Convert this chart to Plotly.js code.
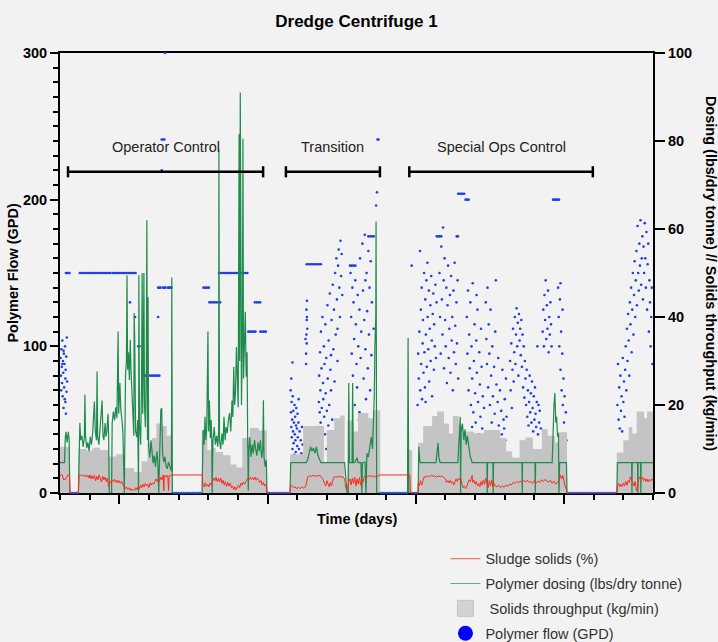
<!DOCTYPE html>
<html><head><meta charset="utf-8">
<script src="https://cdn.plot.ly/plotly-3.0.1.min.js"></script>
<style>html,body{margin:0;padding:0;background:#f2f2f2}#chart{width:718px;height:642px}</style>
</head><body><div id="chart"></div>
<script>
// ---- Solids throughput (kg/min), step values [day, value]
const throughputPts = [[0,10.5],[0.32,0],[0.62,10],[0.9,9.6],[1.1,10.3],[1.35,9.8],[1.65,8.3],[1.9,8.8],[2.15,5.7],[2.5,4.8],[2.75,7.2],[2.95,11.5],[3.1,12.5],[3.25,15.8],[3.45,15.2],[3.6,13],[3.8,0],
[4.78,14.3],[4.97,9.8],[5.1,10.2],[5.25,9.3],[5.5,8.6],[5.75,6.5],[5.95,5.8],[6.15,12.5],[6.4,14.8],[6.7,14.2],[6.98,0],
[7.76,8.8],[8.2,15.2],[8.9,7],[9.0,14.3],[9.25,17],[9.45,17.6],[9.6,2],[9.7,16.5],[9.9,14],[10.05,18.2],[10.4,17],[10.55,18.8],[10.8,0],
[11.72,9.8],[11.88,0],[12.08,11.4],[12.25,15.2],[12.55,17.5],[12.72,18.5],[12.95,15.8],[13.12,13.5],[13.25,17.5],[13.45,15.5],[13.6,14],[13.95,13.6],[14.3,14.3],[14.85,12.5],[15.05,9.5],[15.25,8],[15.5,12],[15.7,12.6],[15.95,10],[16.25,14.5],[16.45,13],[16.7,11.5],[16.8,13.8],[17.1,0],
[18.78,9.2],[19.0,12],[19.18,15],[19.3,13.5],[19.45,18.5],[19.7,17],[19.8,18.5],[20,18.5]];

// ---- Polymer dosing (lbs/dry tonne) [day, value]
const dosingPts = [[0,6.9],[0.15,6.9],[0.18,12.8],[0.2,13.9],[0.24,11.5],[0.28,13.9],[0.31,12],[0.33,0],[0.62,0],
[0.65,11.4],[0.67,15.9],[0.70,12],[0.74,13],[0.78,10.5],[0.82,12.5],[0.84,22.3],[0.86,13],[0.90,10.2],[0.94,11.5],[0.98,9.5],[1.02,12.8],[1.06,11],[1.10,13.5],[1.13,17.3],[1.16,20.8],[1.19,14],[1.23,12],[1.25,27.6],[1.27,13],[1.31,11],[1.35,14.5],[1.38,16.6],[1.42,21],[1.45,13],[1.48,12],[1.52,15.9],[1.55,12.8],[1.58,14],[1.62,18],[1.64,12.8],[1.66,0],[1.74,0],[1.76,15.9],[1.80,18.5],[1.84,16.5],[1.88,19.5],[1.92,17],[1.96,36.7],[1.98,18],[2.02,25],[2.05,19],[2.09,16.6],[2.12,14],[2.17,0],[2.21,27],[2.24,30],[2.26,49.5],[2.28,28],[2.31,32],[2.34,25.7],[2.37,34.8],[2.40,27],[2.43,22],[2.46,16],[2.49,13],[2.50,40.9],[2.52,34.8],[2.55,14],[2.59,12.7],[2.62,16.6],[2.65,0],[2.66,49.5],[2.68,16],[2.72,11],[2.75,25],[2.77,50],[2.79,18],[2.81,30],[2.83,50],[2.85,20],[2.88,15],[2.91,28],[2.93,62],[2.95,12],[2.97,44.5],[2.99,10.5],[3.03,8],[3.07,12],[3.10,9],[3.14,6.8],[3.18,8.5],[3.22,6],[3.27,9.5],[3.30,7],[3.33,0],[3.37,8],[3.40,18.9],[3.43,19.3],[3.46,9],[3.50,7],[3.54,8.2],[3.58,6],[3.62,5.5],[3.66,7],[3.70,6],[3.76,5],[3.77,49],[3.79,0],[4.79,0],
[4.80,9],[4.83,14.3],[4.86,11],[4.89,17.3],[4.92,12],[4.95,15],[4.99,36.7],[5.01,14],[5.04,21],[5.07,12.5],[5.10,16.6],[5.12,11],[5.13,0],[5.16,12],[5.20,15],[5.24,11],[5.28,13],[5.32,10.5],[5.35,14],[5.36,78],[5.38,12],[5.42,10],[5.46,13.5],[5.50,11],[5.53,17.3],[5.57,12],[5.60,15],[5.64,13.6],[5.68,16.6],[5.72,18.2],[5.76,14],[5.80,21],[5.83,17.3],[5.86,28.7],[5.89,20],[5.92,23],[5.95,33.2],[5.98,25],[6.01,19.5],[6.04,81.6],[6.06,30],[6.08,91],[6.10,29.5],[6.12,20],[6.15,36],[6.17,80.5],[6.19,26],[6.22,38],[6.25,41.2],[6.28,26.4],[6.31,32],[6.33,12],[6.35,0.5],[6.37,9.8],[6.40,12.7],[6.44,8.2],[6.48,11],[6.52,9],[6.56,12],[6.60,10],[6.64,8.5],[6.68,11.5],[6.72,9.5],[6.76,12],[6.80,8],[6.84,10],[6.86,21.1],[6.88,8.2],[6.92,6],[6.96,7.5],[6.98,0],[7.76,0],
[7.78,6.9],[8.30,6.9],[8.35,7.5],[8.40,9],[8.45,10.5],[8.50,9.5],[8.55,10.2],[8.60,9],[8.65,10.5],[8.70,8.5],[8.75,7.5],[8.80,6.9],[9.60,6.9],[9.68,0],[9.72,0],[9.74,25],[9.76,6.9],[9.85,6.9],[9.87,25],[9.89,6.9],[9.95,7],[10.02,8],[10.05,6.9],[10.15,6.9],[10.18,0],[10.20,6.9],[10.29,7],[10.32,0],[10.35,9],[10.40,8.2],[10.45,10.5],[10.50,12.7],[10.54,10],[10.57,15],[10.60,22],[10.62,33.2],[10.65,40],[10.66,61.7],[10.68,0],[11.72,0],
[11.74,35.2],[11.76,0],[12.08,0],[12.10,10.5],[12.14,6.9],[12.68,6.9],[12.72,9],[12.75,11.4],[12.78,8],[12.82,6.9],[13.42,6.9],[13.46,12],[13.50,17.3],[13.51,0],[13.53,14],[13.57,15.8],[13.62,12],[13.66,14.5],[13.70,11],[13.74,13],[13.78,10.5],[13.83,8.5],[13.90,6.9],[14.40,6.9],[14.41,0],[14.42,6.9],[14.60,6.9],[14.61,0],[14.62,6.9],[15.58,6.9],[15.59,0],[15.60,6.9],[16.02,6.9],[16.03,0],[16.04,6.9],[16.60,6.9],[16.63,15.9],[16.66,20],[16.69,22.7],[16.72,16],[16.75,17.3],[16.78,12.8],[16.81,13.6],[16.83,0],[16.85,6.9],[17.08,6.9],[17.10,0],[18.78,0],
[18.80,6.9],[19.28,6.9],[19.29,0],[19.30,6.9],[19.48,6.9],[19.49,0],[19.50,6.9],[19.58,6.9],[19.59,0],[19.60,6.9],[20,6.9]];

// ---- Sludge solids (%) [day, value]
const sludgePts = [[0,4.1],[0.08,4.1],[0.12,3.0],[0.2,3.2],[0.26,4.1],[0.32,4.1],[0.34,0],[0.62,0],
[0.64,4.1],[0.70,4.0],[0.75,4.1],[0.80,3.8],[0.85,4.1],[0.90,3.6],[0.94,4.0],[0.98,3.4],[1.01,4.1],[1.05,3.2],[1.08,3.9],[1.12,3.3],[1.16,4.0],[1.20,2.8],[1.24,3.8],[1.28,3.0],[1.32,4.1],[1.36,3.5],[1.40,2.5],[1.44,3.8],[1.48,3.0],[1.52,3.6],[1.56,2.6],[1.60,3.4],[1.64,1.4],[1.68,2.6],[1.72,2.3],[1.76,3.0],[1.80,2.6],[1.84,3.1],[1.88,2.4],[1.92,2.9],[1.96,2.3],[2.00,2.8],[2.04,2.2],[2.08,2.6],[2.12,1.8],[2.16,1.4],[2.20,1.0],[2.24,1.4],[2.28,0.8],[2.32,1.2],[2.36,0.6],[2.40,1.0],[2.44,0.5],[2.48,0.9],[2.52,0.6],[2.56,1.2],[2.60,0.7],[2.64,1.5],[2.68,1.0],[2.72,1.8],[2.76,1.2],[2.80,2.0],[2.84,1.4],[2.88,2.2],[2.92,1.6],[2.96,2.0],[3.00,1.2],[3.04,2.3],[3.08,1.8],[3.12,2.3],[3.16,2.0],[3.20,2.6],[3.24,3.2],[3.28,2.6],[3.32,3.4],[3.36,2.8],[3.40,3.6],[3.44,3.0],[3.48,4.1],[3.50,0.5],[3.52,4.0],[3.56,3.6],[3.60,4.1],[3.64,3.4],[3.66,0.6],[3.68,4.0],[3.72,3.8],[3.76,4.1],[3.81,4.1],[4.80,4.1],
[4.82,1.8],[4.86,1.4],[4.90,2.3],[4.94,1.5],[4.98,2.0],[5.02,1.4],[5.06,2.2],[5.10,1.8],[5.14,2.6],[5.18,3.4],[5.22,2.8],[5.26,3.6],[5.30,2.6],[5.34,3.3],[5.38,2.5],[5.42,3.4],[5.46,2.2],[5.50,2.9],[5.54,1.8],[5.58,2.6],[5.62,1.5],[5.66,2.4],[5.70,1.6],[5.74,2.2],[5.78,1.2],[5.82,1.6],[5.86,0.8],[5.90,1.4],[5.94,0.7],[5.98,1.2],[6.02,1.8],[6.06,1.2],[6.10,2.2],[6.14,1.8],[6.18,2.5],[6.22,2.0],[6.26,2.6],[6.30,3.0],[6.34,3.4],[6.38,3.0],[6.42,3.6],[6.46,3.1],[6.50,3.5],[6.54,3.0],[6.58,3.6],[6.62,2.9],[6.66,3.4],[6.70,3.0],[6.74,2.4],[6.78,2.8],[6.82,1.8],[6.86,2.4],[6.90,1.6],[6.95,2.0],[6.98,0],[7.76,0],
[7.77,1.8],[7.82,1.6],[7.88,1.2],[7.93,1.4],[7.98,1.0],[8.04,1.3],[8.10,1.0],[8.16,1.4],[8.22,1.1],[8.28,1.4],[8.33,2.5],[8.36,3.7],[8.42,3.9],[8.48,3.8],[8.54,4.0],[8.60,3.9],[8.66,3.8],[8.72,4.0],[8.78,3.9],[8.84,3.3],[8.88,3.0],[8.92,2.2],[8.96,1.6],[9.00,2.8],[9.04,1.8],[9.08,1.4],[9.12,2.4],[9.16,1.6],[9.20,2.8],[9.24,3.6],[9.30,3.7],[9.36,3.6],[9.42,3.8],[9.48,3.6],[9.54,3.7],[9.60,3.2],[9.63,1.4],[9.67,0.8],[9.71,1.2],[9.74,2.6],[9.78,3.2],[9.82,1.8],[9.86,3.4],[9.90,2.2],[9.94,3.6],[9.98,1.6],[10.02,3.2],[10.06,2.0],[10.10,3.5],[10.14,1.8],[10.18,3.0],[10.22,2.4],[10.26,3.8],[10.30,3.9],[10.36,3.7],[10.42,3.9],[10.48,3.8],[10.54,3.9],[10.60,3.6],[10.66,3.9],[10.72,3.8],[10.79,4.1],[11.80,4.1],[11.82,0],[12.07,0],
[12.08,2.2],[12.12,1.6],[12.16,2.8],[12.20,1.8],[12.24,3.0],[12.28,3.7],[12.34,3.6],[12.40,3.9],[12.46,3.7],[12.52,4.0],[12.58,3.8],[12.64,3.9],[12.70,3.6],[12.76,3.9],[12.82,3.7],[12.88,3.9],[12.94,3.5],[13.00,3.2],[13.04,2.4],[13.08,2.8],[13.12,2.3],[13.16,2.9],[13.20,2.2],[13.24,2.6],[13.28,1.8],[13.32,2.8],[13.36,3.2],[13.40,2.6],[13.44,3.4],[13.48,3.0],[13.52,3.3],[13.56,2.0],[13.60,1.2],[13.64,1.6],[13.68,1.0],[13.72,1.5],[13.76,2.4],[13.80,3.0],[13.84,2.6],[13.88,3.4],[13.90,4.0],[13.92,2.4],[13.96,2.9],[14.00,2.0],[14.04,2.6],[14.08,1.6],[14.12,2.2],[14.16,1.4],[14.20,2.6],[14.24,1.8],[14.28,3.0],[14.32,2.0],[14.36,3.4],[14.40,2.2],[14.44,1.2],[14.48,2.8],[14.52,1.6],[14.56,3.0],[14.60,1.4],[14.64,2.2],[14.68,1.6],[14.74,1.4],[14.80,1.8],[14.86,1.2],[14.92,1.6],[14.98,1.3],[15.04,1.8],[15.10,1.5],[15.16,2.0],[15.22,1.8],[15.28,2.4],[15.34,2.2],[15.40,2.6],[15.46,2.3],[15.52,2.7],[15.58,2.4],[15.64,2.8],[15.70,2.5],[15.76,2.9],[15.82,2.4],[15.88,2.6],[15.94,2.2],[16.00,2.8],[16.06,2.2],[16.12,2.7],[16.18,2.4],[16.24,3.0],[16.30,2.6],[16.36,3.1],[16.42,2.7],[16.48,2.5],[16.54,2.9],[16.60,2.2],[16.66,2.7],[16.72,2.0],[16.78,2.5],[16.84,2.9],[16.88,4.1],[16.92,3.2],[16.96,4.0],[17.00,2.6],[17.04,1.4],[17.08,0.8],[17.10,0],[18.78,0],
[18.80,1.6],[18.84,2.2],[18.88,1.4],[18.92,2.0],[18.96,1.5],[19.00,2.3],[19.04,1.6],[19.08,2.6],[19.12,1.8],[19.16,2.8],[19.20,2.4],[19.24,3.7],[19.28,3.0],[19.32,2.4],[19.36,1.6],[19.40,2.6],[19.44,0.5],[19.48,1.2],[19.52,3.2],[19.56,3.7],[19.60,3.2],[19.64,3.6],[19.68,2.8],[19.72,3.4],[19.76,2.6],[19.80,3.2],[19.84,2.5],[19.88,3.1],[19.92,2.7],[19.96,3.2],[20.00,2.8]];

// ---- Polymer flow (GPD): constant-rate runs [value, days...]
const flowRuns = [
 [150,[0.20,0.24,0.28,0.32]],
 [150,[0.67,0.73,0.79,0.85,0.91,0.97,1.03,1.09,1.15,1.21,1.27,1.33,1.39,1.45,1.51,1.57,1.63,1.69]],
 [150,[1.77,1.83,1.89,1.95,2.01,2.07,2.13,2.19,2.25,2.31,2.37,2.43,2.49,2.55]],
 [150,[5.36,5.42,5.48,5.54,5.60,5.66,5.72,5.78,5.84,5.90,5.96,6.02,6.08,6.14,6.20,6.26,6.32]],
 [140,[3.31,3.35,3.39,3.48,3.52,3.56,3.64,3.68,3.72,3.76,4.84,4.90,4.96,5.02]],
 [130,[5.04,5.10,5.16,5.22,5.28,5.34,5.40,6.57,6.63,6.69,6.75]],
 [110,[6.35,6.41,6.47,6.53,6.59,6.76,6.82,6.88,6.94]],
 [80,[2.81,2.87,2.93,2.99,3.05,3.11,3.17,3.23,3.29,3.35]],
 [156,[8.32,8.38,8.44,8.50,8.56,8.62,8.68,8.74,8.80]],
 [155,[9.78,9.84,9.90,9.96]],
 [175,[10.40,10.46,10.52,10.58,12.71,12.76,12.81,12.86,13.38,13.42]],
 [204,[13.43,13.48,13.53,13.58,13.63]],
 [200,[13.68,13.73,13.78,16.63,16.68,16.73,16.78,16.83]],
 [0,[0.36,0.42,0.48,0.54,0.60,3.84,3.92,4.00,4.08,4.16,4.24,4.32,4.40,4.48,4.56,4.64,4.72,7.02,7.10,7.18,7.26,7.34,7.42,7.50,7.58,7.66,7.74,10.82,10.90,10.98,11.06,11.14,11.22,11.30,11.38,11.46,11.54,11.62,11.70,11.90,11.98,12.04,17.12,17.20,17.28,17.36,17.44,17.52,17.60,17.68,17.76,17.84,17.92,18.00,18.08,18.16,18.24,18.32,18.40,18.48,18.56,18.64,18.72]]
];
// ---- Polymer flow (GPD): individual readings [day, value]
const flowPoints = [[2.36,130],[2.53,120],[3.31,120],[2.64,100],[2.68,100],[3.43,220],[3.43,241],[3.48,241],[3.52,241],[3.54,300],[10.66,196],[10.69,205],[10.71,241],[10.74,241],[11.86,155],
[0.02,92],[0.03,80],[0.04,70],[0.05,98],[0.06,86],[0.07,75],[0.08,104],[0.09,66],[0.10,90],[0.11,82],[0.12,58],[0.13,95],[0.14,72],[0.15,88],[0.16,64],[0.17,100],[0.18,78],[0.19,84],[0.20,54],[0.21,93],[0.22,69],[0.23,106],[0.24,76],[0.18,62],[0.08,88],[0.12,97],
[7.78,70],[7.79,55],[7.80,45],[7.81,62],[7.82,38],[7.83,50],[7.84,30],[7.85,66],[7.86,42],[7.87,56],[7.88,34],[7.89,48],[7.90,26],[7.91,60],[7.92,40],[7.93,52],[7.94,36],[7.95,28],[7.96,46],[7.97,58],[7.98,22],[7.99,44],[8.00,32],[8.01,54],[8.02,38],[8.03,24],[8.04,48],[8.06,30],[8.08,42],[8.10,20],[8.12,36],[7.80,78],[7.84,89],[8.05,64],[8.14,27],[8.16,45],[8.18,33],
[8.28,105],[8.30,95],[8.31,108],[8.32,118],[8.31,125],[8.33,131],[8.32,102],[8.34,112],[8.30,88],[8.33,120],
[8.72,45],[8.73,62],[8.74,80],[8.75,38],[8.76,55],[8.77,96],[8.78,70],[8.79,48],[8.80,110],[8.81,34],[8.82,85],[8.83,58],[8.85,120],[8.86,42],[8.87,75],[8.88,64],[8.90,100],[8.91,52],[8.92,88],[8.94,40],[8.95,115],[8.96,68],[8.98,92],[9.00,56],[9.02,128],[9.03,78],[9.05,46],[9.06,104],[9.08,60],[9.10,136],[9.12,84],[9.14,70],[9.16,118],[9.18,50],[9.20,142],[9.22,98],[9.24,125],[9.26,76],[9.28,150],[9.30,108],[9.32,160],[9.34,132],[9.36,90],[9.38,155],[9.40,166],[9.42,140],[9.44,120],[9.46,172],[9.48,148],[9.50,163],[9.52,135],[9.36,112],[9.14,94],[8.98,30],
[9.80,150],[9.82,120],[9.84,95],[9.86,140],[9.88,80],[9.90,130],[9.92,105],[9.94,60],[9.96,145],[9.98,115],[10.00,88],[10.02,72],[10.04,135],[10.06,100],[10.08,50],[10.10,125],[10.12,160],[10.14,92],[10.16,110],[10.18,42],[10.20,170],[10.22,138],[10.24,78],[10.26,118],[10.28,176],[10.30,98],[10.32,64],[10.34,150],[10.36,124],[10.38,85],[10.40,165],[10.42,108],[10.44,140],[10.46,70],[10.48,158],[10.50,94],[10.52,130],[10.55,36],[10.58,112],[10.30,145],[10.10,55],
[12.06,60],[12.08,95],[12.10,78],[12.12,110],[12.14,165],[12.15,70],[12.17,125],[12.18,88],[12.20,140],[12.21,64],[12.23,102],[12.24,118],[12.26,82],[12.28,150],[12.29,96],[12.31,72],[12.32,132],[12.34,108],[12.36,145],[12.37,86],[12.39,157],[12.40,120],[12.42,98],[12.44,138],[12.45,76],[12.47,112],[12.49,128],[12.50,90],[12.52,148],[12.54,104],[12.55,66],[12.57,122],[12.59,136],[12.61,84],[12.62,115],[12.64,100],[12.66,142],[12.68,92],[12.70,130],[12.33,62],
[12.80,150],[12.82,120],[12.84,95],[12.86,168],[12.88,132],[12.90,108],[12.92,181],[12.94,145],[12.95,85],[12.97,160],[12.99,118],[13.01,100],[13.03,140],[13.05,75],[13.07,128],[13.09,155],[13.11,92],[13.13,112],[13.15,135],[13.17,82],[13.19,148],[13.21,104],[13.23,120],[13.25,70],[13.27,138],[13.29,96],[13.31,157],[13.33,114],[13.35,88],[13.37,130],[13.39,102],[13.41,145],[13.43,78],
[13.72,120],[13.74,95],[13.76,138],[13.78,70],[13.80,108],[13.82,85],[13.84,130],[13.86,60],[13.88,100],[13.90,78],[13.92,143],[13.94,55],[13.96,90],[13.98,115],[14.00,68],[14.02,48],[14.04,104],[14.06,82],[14.08,125],[14.10,62],[14.12,40],[14.14,96],[14.16,74],[14.18,52],[14.20,112],[14.22,86],[14.24,44],[14.26,66],[14.28,36],[14.30,58],[14.05,135],[13.90,45],
[14.36,130],[14.38,105],[14.40,88],[14.42,140],[14.44,72],[14.46,115],[14.48,95],[14.50,60],[14.52,125],[14.54,80],[14.56,48],[14.58,100],[14.60,66],[14.62,38],[14.64,86],[14.66,54],[14.68,110],[14.70,42],[14.72,74],[14.74,30],[14.76,62],[14.78,92],[14.80,46],[14.82,34],[14.84,70],[14.86,26],[14.88,56],[14.90,40],[14.92,84],[14.94,32],[14.96,50],[14.98,44],[15.00,64],[15.02,36],[15.04,78],[15.06,52],[14.70,145],
[15.18,90],[15.20,70],[15.22,102],[15.24,58],[15.26,84],[15.28,112],[15.30,76],[15.32,96],[15.34,120],[15.36,88],[15.38,108],[15.40,126],[15.42,100],[15.44,116],[15.46,80],[15.48,122],[15.50,104],[15.52,112],[15.54,94],[15.56,118],[15.58,86],[15.60,108],[15.62,72],[15.64,100],[15.66,65],[15.68,90],[15.70,78],[15.72,60],[15.74,84],[15.76,52],[15.78,70],[15.80,46],[15.82,62],[15.84,80],[15.86,55],[15.88,68],[15.90,48],[15.92,76],[15.94,58],[15.96,42],[15.98,66],[16.00,50],[16.02,72],[16.04,54],[16.06,45],[16.08,62],[16.10,100],[16.12,40],[16.14,60],[16.16,48],[16.18,56],[16.22,44],
[16.28,110],[16.30,125],[16.32,100],[16.34,135],[16.36,118],[16.38,145],[16.40,105],[16.42,128],[16.44,112],[16.46,138],[16.48,96],[16.50,120],[16.52,108],[16.54,130],[16.56,115],[16.58,100],
[16.80,140],[16.82,120],[16.84,100],[16.86,132],[16.88,84],[16.90,110],[16.92,70],[16.94,95],[16.96,60],[16.98,78],[17.00,48],[17.02,66],[17.04,40],[17.06,55],[17.08,36],[16.88,143],[16.95,125],
[18.80,60],[18.82,88],[18.84,50],[18.86,72],[18.88,44],[18.90,80],[18.92,56],[18.94,66],[18.96,42],[18.98,92],[19.00,62],[19.02,76],[19.04,52],[19.06,84],[19.08,100],[19.10,70],[19.12,112],[19.14,90],[19.16,122],[19.18,104],[19.20,80],[19.22,130],[19.24,115],[19.26,140],[19.28,96],[19.30,125],[19.32,150],[19.34,108],[19.36,135],[19.38,158],[19.40,120],[19.42,145],[19.44,165],[19.46,128],[19.48,182],[19.50,150],[19.52,138],[19.54,170],[19.56,155],[19.58,186],[19.60,142],[19.62,160],[19.64,175],[19.66,132],[19.68,168],[19.70,150],[19.72,184],[19.74,160],[19.76,140],[19.78,178],[19.80,125],[19.82,156],[19.84,170],[19.86,110],[19.88,145],[19.90,130],[19.92,100],[19.94,120],[19.96,140],[19.98,88]];

// ---- Phases
const phaseNames = ['Operator Control','Transition','Special Ops Control'];
const phaseStart = [0.27, 7.62, 11.78];
const phaseEnd = [6.85, 10.79, 17.97];
const bracketLevel = 219, labelLevel = 236, capHalf = 3.8;

const xTicksMajor = [2,7,12,17];
const yLeftTicks = [0,100,200,300];
const yRightTicks = [0,20,40,60,80,100];

const FONT = 'Liberation Sans, Arial, Helvetica, sans-serif';
const col = i => a => a.map(p => p[i]);

let flowX = [], flowY = [];
flowRuns.forEach(r => r[1].forEach(d => { flowX.push(d); flowY.push(r[0]); }));
flowPoints.forEach(p => { flowX.push(p[0]); flowY.push(p[1]); });

const traces = [
 {x: col(0)(throughputPts), y: col(1)(throughputPts), yaxis:'y2', mode:'lines', line:{shape:'hv', width:0, color:'rgba(0,0,0,0)'}, fill:'tozeroy', fillcolor:'rgb(196,196,196)', showlegend:false, hoverinfo:'skip'},
 {x: col(0)(dosingPts), y: col(1)(dosingPts), yaxis:'y2', mode:'lines', line:{color:'#1e8a4c', width:1.2}, showlegend:false},
 {x: col(0)(sludgePts), y: col(1)(sludgePts), yaxis:'y2', mode:'lines', line:{color:'#ff2a1a', width:1}, showlegend:false},
 {x: flowX, y: flowY, yaxis:'y', mode:'markers', marker:{size:2.6, color:'#1f3fe6'}, showlegend:false, cliponaxis:false},
 // legend entries
 {x:[null], y:[null], name:'Sludge solids (%)', legendgroup:'a', mode:'lines', line:{color:'#f07a72', width:1.2}},
 {x:[null], y:[null], name:'Polymer dosing (lbs/dry tonne)', legendgroup:'b', mode:'lines', line:{color:'#6fa585', width:1.2}},
 {x:[null], y:[null], name:' Solids throughput (kg/min)', legendgroup:'c', mode:'markers', marker:{symbol:'square', size:16, color:'#d3d3d3', line:{color:'#c4c4c4', width:1}}},
 {x:[null], y:[null], name:'Polymer flow (GPD)', legendgroup:'d', mode:'markers', marker:{size:15, color:'#0000ff'}}
];

const shapes = [], annotations = [];
phaseNames.forEach((n, i) => {
  const ln = {color:'#000', width:2.5};
  shapes.push({type:'line', xref:'x', yref:'y', x0:phaseStart[i], x1:phaseEnd[i], y0:bracketLevel, y1:bracketLevel, line:ln});
  shapes.push({type:'line', xref:'x', yref:'y', x0:phaseStart[i], x1:phaseStart[i], y0:bracketLevel-capHalf, y1:bracketLevel+capHalf, line:ln});
  shapes.push({type:'line', xref:'x', yref:'y', x0:phaseEnd[i], x1:phaseEnd[i], y0:bracketLevel-capHalf, y1:bracketLevel+capHalf, line:ln});
  annotations.push({xref:'x', yref:'y', x:(phaseStart[i]+phaseEnd[i])/2, y:labelLevel, text:n, showarrow:false, font:{family:FONT, size:14.5, color:'#222'}});
});
annotations.push({xref:'paper', yref:'paper', x:0.5, y:-0.059, xanchor:'center', yanchor:'middle', text:'<b>Time (days)</b>', showarrow:false, font:{family:FONT, size:14.5, color:'#000'}});
annotations.push({xref:'paper', yref:'paper', x:-0.08, y:0.5, xanchor:'center', yanchor:'middle', text:'<b>Polymer Flow (GPD)</b>', textangle:-90, showarrow:false, font:{family:FONT, size:14.5, color:'#000'}});
annotations.push({xref:'paper', yref:'paper', x:1.098, y:0.5, xanchor:'center', yanchor:'middle', text:'<b>Dosing (lbs/dry tonne) // Solids throughput (kg/min)</b>', textangle:90, showarrow:false, font:{family:FONT, size:14.5, color:'#000'}});

const tickFont = {family:FONT, size:14.5, color:'#000', weight:700};
const layout = {
  width:718, height:642,
  paper_bgcolor:'#f2f2f2', plot_bgcolor:'#f2f2f2',
  margin:{l:60, r:65, t:53, b:149, pad:0, autoexpand:false},
  title:{text:'<b>Dredge Centrifuge 1</b>', font:{family:FONT, size:17, color:'#000'}, x:0.5, xref:'paper', y:0.967, yref:'container', yanchor:'middle'},
  xaxis:{range:[0,20], showline:true, linecolor:'#000', linewidth:2, mirror:true, ticks:'outside', tickmode:'array', tickvals:xTicksMajor, ticklen:9, tickwidth:2, tickcolor:'#000', showticklabels:false, showgrid:false, zeroline:false, layer:'below traces',
         minor:{tickmode:'linear', tick0:0, dtick:1, ticks:'outside', ticklen:5, tickwidth:2, tickcolor:'#000', showgrid:false}},
  yaxis:{range:[0,300], showline:true, linecolor:'#000', linewidth:2, ticks:'outside', tickmode:'array', tickvals:yLeftTicks, ticklen:8, tickwidth:2, tickcolor:'#000', tickfont:tickFont, showgrid:false, zeroline:false, layer:'below traces',
         minor:{tickmode:'linear', tick0:0, dtick:10, ticks:'outside', ticklen:5, tickwidth:2, tickcolor:'#000', showgrid:false}},
  yaxis2:{range:[0,100], overlaying:'y', side:'right', showline:true, linecolor:'#000', linewidth:2, ticks:'outside', tickmode:'array', tickvals:yRightTicks, ticklen:10, tickwidth:2, tickcolor:'#000', tickfont:tickFont, showgrid:false, zeroline:false},
  legend:{x:0.65, y:-0.113, xanchor:'left', yanchor:'top', bgcolor:'rgba(0,0,0,0)', font:{family:FONT, size:14.5, color:'#333'}, traceorder:'grouped', tracegroupgap:3},
  shapes:shapes, annotations:annotations, showlegend:true
};
Plotly.newPlot('chart', traces, layout, {displayModeBar:false, staticPlot:true});
</script></body></html>
